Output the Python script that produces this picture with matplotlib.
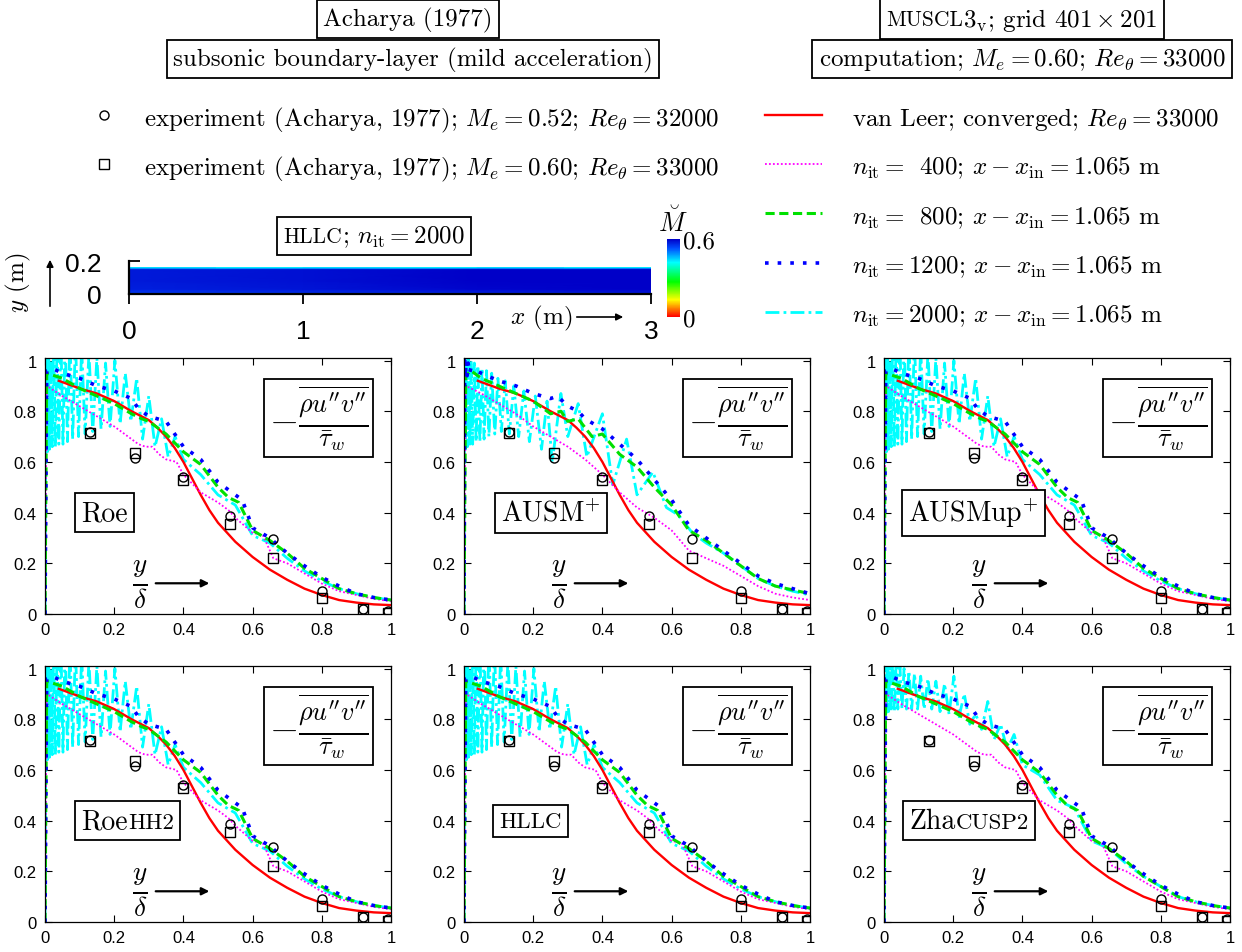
import numpy as np
import matplotlib
matplotlib.use("Agg")
import matplotlib.pyplot as plt
from matplotlib.lines import Line2D
from matplotlib.patches import FancyArrowPatch
from matplotlib.offsetbox import TextArea, HPacker, AnnotationBbox
from matplotlib.colors import LinearSegmentedColormap, Normalize
import matplotlib.cm as cm

plt.rcParams['mathtext.fontset'] = 'cm'
plt.rcParams['font.family'] = 'Liberation Sans'
SERIF = 'cmr10'

# experiment (Acharya 1977), y/delta and -rho u''v''/tau_w
Y_EXP = [0.13, 0.26, 0.40, 0.535, 0.66, 0.80, 0.92, 0.99]
EXP_052 = [0.72, 0.615, 0.54, 0.385, 0.295, 0.09, 0.02, 0.01]
EXP_060 = [0.715, 0.635, 0.53, 0.355, 0.22, 0.065, 0.02, 0.005]

# van Leer, converged
RED_X = [0.04, 0.10, 0.15, 0.20, 0.25, 0.30, 0.325, 0.35, 0.375, 0.40, 0.425,
         0.45, 0.475, 0.50, 0.55, 0.60, 0.65, 0.70, 0.75, 0.80, 0.85, 0.90,
         0.95, 1.00]
RED_Y = [0.92, 0.89, 0.87, 0.84, 0.80, 0.765, 0.735, 0.70, 0.655, 0.60, 0.535,
         0.47, 0.41, 0.36, 0.285, 0.225, 0.175, 0.135, 0.10, 0.075, 0.055, 0.045,
         0.038, 0.035]

# n_it = 400
MAG_X = [0.0, 0.005, 0.05, 0.10, 0.15, 0.20, 0.24, 0.27, 0.29, 0.31, 0.33, 0.35,
         0.38, 0.40, 0.45, 0.50, 0.53, 0.55, 0.60, 0.63, 0.66, 0.70, 0.75, 0.80,
         0.85, 0.90, 0.95, 1.00]
MAG_Y = [0.0, 0.90, 0.86, 0.82, 0.78, 0.74, 0.70, 0.67, 0.66, 0.66, 0.63, 0.61,
         0.60, 0.55, 0.48, 0.44, 0.41, 0.38, 0.32, 0.31, 0.22, 0.20, 0.16, 0.12,
         0.09, 0.075, 0.06, 0.05]
MAG_AUSM_X = [0.0, 0.005, 0.05, 0.10, 0.15, 0.20, 0.25, 0.30, 0.35, 0.40, 0.45,
              0.50, 0.55, 0.60, 0.65, 0.70, 0.75, 0.80, 0.85, 0.90, 0.95, 1.00]
MAG_AUSM_Y = [0.0, 0.90, 0.87, 0.83, 0.79, 0.74, 0.70, 0.66, 0.61, 0.55, 0.48,
              0.42, 0.38, 0.33, 0.25, 0.22, 0.19, 0.15, 0.11, 0.08, 0.065, 0.055]

# n_it = 800
GRN_X = [0.0, 0.005, 0.05, 0.10, 0.15, 0.20, 0.25, 0.28, 0.30, 0.35, 0.40, 0.45,
         0.50, 0.53, 0.56, 0.60, 0.65, 0.70, 0.75, 0.80, 0.85, 0.90, 0.95, 1.00]
GRN_Y = [0.0, 0.95, 0.93, 0.89, 0.86, 0.83, 0.79, 0.77, 0.76, 0.71, 0.64, 0.59,
         0.50, 0.46, 0.44, 0.33, 0.29, 0.24, 0.18, 0.14, 0.10, 0.08, 0.065, 0.055]
GRN_AUSM_X = [0.0, 0.005, 0.02, 0.05, 0.10, 0.15, 0.20, 0.25, 0.28, 0.30, 0.33,
              0.37, 0.40, 0.45, 0.50, 0.55, 0.60, 0.65, 0.70, 0.75, 0.80, 0.85,
              0.90, 0.95, 1.00]
GRN_AUSM_Y = [0.0, 0.94, 0.96, 0.93, 0.90, 0.87, 0.84, 0.79, 0.80, 0.76, 0.77,
              0.70, 0.71, 0.63, 0.58, 0.50, 0.43, 0.33, 0.29, 0.24, 0.19, 0.14,
              0.11, 0.095, 0.08]

# n_it = 1200
BLU_X = [0.0, 0.005, 0.02, 0.05, 0.10, 0.15, 0.20, 0.25, 0.27, 0.30, 0.35, 0.38,
         0.40, 0.45, 0.50, 0.55, 0.57, 0.60, 0.65, 0.70, 0.75, 0.80, 0.85, 0.90,
         0.95, 1.00]
BLU_Y = [0.0, 0.96, 0.97, 0.95, 0.93, 0.90, 0.88, 0.85, 0.81, 0.78, 0.76, 0.70,
         0.66, 0.61, 0.52, 0.47, 0.45, 0.34, 0.30, 0.24, 0.19, 0.145, 0.11, 0.08,
         0.065, 0.055]
BLU_AUSM_X = [0.0, 0.002, 0.004, 0.006, 0.009, 0.012, 0.016, 0.02, 0.05, 0.10,
              0.15, 0.20, 0.25, 0.27, 0.30, 0.33, 0.35, 0.40, 0.45, 0.50, 0.55,
              0.60, 0.65, 0.70, 0.75, 0.80, 0.85, 0.90, 0.95, 1.00]
BLU_AUSM_Y = [0.0, 1.0, 0.93, 1.0, 0.94, 0.99, 0.95, 0.97, 0.95, 0.92, 0.90,
              0.87, 0.85, 0.86, 0.82, 0.80, 0.77, 0.73, 0.67, 0.61, 0.53, 0.45,
              0.35, 0.30, 0.25, 0.20, 0.15, 0.12, 0.10, 0.08]

# n_it = 2000 (odd-even oscillation near the wall)
CYA_X = [0.0, 0.002, 0.004, 0.007, 0.010, 0.013, 0.017, 0.021, 0.025, 0.030,
         0.035, 0.040, 0.046, 0.052, 0.058, 0.065, 0.072, 0.080, 0.088, 0.097,
         0.106, 0.116, 0.127, 0.138, 0.150, 0.162, 0.175, 0.188, 0.202, 0.217,
         0.232, 0.248, 0.265, 0.282, 0.300, 0.318, 0.337, 0.356, 0.376, 0.40,
         0.45, 0.50, 0.55, 0.60, 0.65, 0.70, 0.75, 0.80, 0.85, 0.90, 0.95, 1.00]
CYA_Y = [0.0, 0.62, 1.10, 0.64, 1.10, 0.65, 1.10, 0.66, 1.10, 0.66,
         1.10, 0.67, 1.10, 0.67, 1.10, 0.68, 1.10, 0.69, 1.08, 0.70,
         1.05, 0.71, 1.03, 0.72, 1.01, 0.73, 0.99, 0.74, 1.00, 0.75,
         0.95, 0.76, 0.93, 0.69, 0.86, 0.66, 0.77, 0.62, 0.70, 0.61,
         0.55, 0.47, 0.43, 0.31, 0.28, 0.22, 0.17, 0.13, 0.10, 0.08, 0.065, 0.055]
CYA_ZHA_Y = [0.0, 0.80, 1.08, 0.82, 1.06, 0.83, 1.04, 0.83, 1.03, 0.83,
             1.02, 0.84, 1.01, 0.84, 1.00, 0.84, 0.99, 0.84, 0.98, 0.84,
             0.97, 0.84, 0.96, 0.84, 0.95, 0.83, 0.94, 0.82, 0.97, 0.81,
             0.90, 0.78, 0.82, 0.76, 0.87, 0.72, 0.78, 0.68, 0.74, 0.62,
             0.58, 0.48, 0.45, 0.32, 0.29, 0.23, 0.18, 0.14, 0.10, 0.08, 0.065, 0.055]
CYA_AUSM_X = [0.0, 0.002, 0.004, 0.007, 0.010, 0.013, 0.017, 0.021, 0.025, 0.030,
              0.035, 0.040, 0.046, 0.052, 0.058, 0.065, 0.072, 0.080, 0.089, 0.098,
              0.108, 0.119, 0.131, 0.144, 0.158, 0.173, 0.189, 0.206, 0.224, 0.240,
              0.255, 0.280, 0.300, 0.330, 0.355, 0.400, 0.430, 0.470, 0.500, 0.546,
              0.585, 0.620, 0.660, 0.700, 0.750, 0.800, 0.850, 0.900, 0.950, 1.000]
CYA_AUSM_Y = [0.0, 1.08, 0.65, 1.05, 0.66, 1.02, 0.67, 1.00, 0.67, 0.99,
              0.68, 0.98, 0.68, 0.97, 0.69, 0.96, 0.70, 0.95, 0.71, 0.93,
              0.72, 0.92, 0.71, 0.90, 0.70, 0.88, 0.68, 0.86, 0.65, 0.84,
              0.60, 0.87, 0.70, 0.83, 0.62, 0.79, 0.51, 0.69, 0.47, 0.56,
              0.42, 0.39, 0.32, 0.28, 0.24, 0.19, 0.14, 0.11, 0.09, 0.075]

# Mach number field, HLLC n_it = 2000
FIELD_X = [0.0, 1.0, 2.0, 3.0]
FIELD_Y = [0.0, 0.003, 0.010, 0.030, 0.080, 0.150, 0.156, 0.160]
FIELD_M = [[0.42, 0.42, 0.42, 0.42],
           [0.52, 0.52, 0.53, 0.53],
           [0.55, 0.56, 0.57, 0.58],
           [0.57, 0.58, 0.595, 0.60],
           [0.575, 0.585, 0.60, 0.60],
           [0.575, 0.585, 0.60, 0.60],
           [0.50, 0.50, 0.51, 0.52],
           [0.42, 0.42, 0.42, 0.42]]

STD = dict(mag=(MAG_X, MAG_Y), grn=(GRN_X, GRN_Y), blu=(BLU_X, BLU_Y), cya=(CYA_X, CYA_Y))
AUSM = dict(mag=(MAG_AUSM_X, MAG_AUSM_Y), grn=(GRN_AUSM_X, GRN_AUSM_Y),
            blu=(BLU_AUSM_X, BLU_AUSM_Y), cya=(CYA_AUSM_X, CYA_AUSM_Y))
ZHA = dict(STD, cya=(CYA_X, CYA_ZHA_Y))

BIG = 18
SC = 15.5   # small caps

PANELS = [
    ([('Roe', 20)], 0.105, STD),
    ([(r'$\mathrm{AUSM}^{+}$', 20)], 0.107, AUSM),
    ([(r'$\mathrm{AUSMup}^{+}$', 20)], 0.070, STD),
    ([('Roe', 20), ('HH2', 16.5)], 0.105, STD),
    ([('HLLC', 16.5)], 0.102, STD),
    ([('Zha', 20), ('CUSP2', 16.5)], 0.073, ZHA),
]

W, H = 1242, 953
fig = plt.figure(figsize=(W / 100, H / 100), dpi=100)


def fx(px):
    return px / W


def fy(py):
    return 1 - py / H


def boxed(parent, parts, xy, coords, align=(0.5, 0.5), pad=0.45):
    kids = [TextArea(s, textprops=dict(family=SERIF, size=sz)) for s, sz in parts]
    pack = HPacker(children=kids, align='baseline', pad=0, sep=0)
    ab = AnnotationBbox(pack, xy, xycoords=coords, box_alignment=align,
                        frameon=True, pad=pad,
                        bboxprops=dict(lw=1.3, ec='black', fc='white'))
    ab.set_zorder(6)
    parent.add_artist(ab)


# headers
boxed(fig, [('Acharya (1977)', BIG)], (fx(408), fy(20)), 'figure fraction')
boxed(fig, [('subsonic boundary-layer (mild acceleration)', BIG)],
      (fx(413), fy(60)), 'figure fraction')
boxed(fig, [('MUSCL', SC), (r'$3_{\mathrm{v}}$; grid $401\times201$', BIG)],
      (fx(1022), fy(20)), 'figure fraction')
boxed(fig, [(r'computation; $M_e = 0.60$; $Re_\theta = 33000$', BIG)],
      (fx(1022), fy(60)), 'figure fraction')

# legend, experiments
for yy, mk, txt in [(116, 'o', r'experiment (Acharya, 1977); $M_e = 0.52$; $Re_\theta = 32000$'),
                    (165, 's', r'experiment (Acharya, 1977); $M_e = 0.60$; $Re_\theta = 33000$')]:
    fig.add_artist(Line2D([fx(104)], [fy(yy)], transform=fig.transFigure, ls='none',
                          marker=mk, ms=6.5, mfc='none', mec='k', mew=1))
    fig.text(fx(144), fy(yy), txt, family=SERIF, size=BIG, va='center_baseline')

STYLES = {
    'red': dict(color='#ff0000', ls='-', lw=1.7),
    'mag': dict(color='#ff00ff', ls=(0, (1, 1.2)), lw=1.3),
    'grn': dict(color='#00e000', ls=(0, (3, 1.5)), lw=2.2),
    'blu': dict(color='#0000ff', ls=(0, (1, 2.5)), lw=2.6),
    'cya': dict(color='#00ffff', ls=(0, (5, 1.5, 1, 1.5)), lw=2.0),
}
LEG = [('red', r'van Leer; converged; $Re_\theta = 33000$'),
       ('mag', r'$n_{\mathrm{it}}{=}\ \,400$; $x - x_{\mathrm{in}} = 1.065$ m'),
       ('grn', r'$n_{\mathrm{it}}{=}\ \,800$; $x - x_{\mathrm{in}} = 1.065$ m'),
       ('blu', r'$n_{\mathrm{it}}{=}1200$; $x - x_{\mathrm{in}} = 1.065$ m'),
       ('cya', r'$n_{\mathrm{it}}{=}2000$; $x - x_{\mathrm{in}} = 1.065$ m')]
for i, (key, txt) in enumerate(LEG):
    yy = 116 + 49.2 * i
    fig.add_artist(Line2D([fx(765), fx(822)], [fy(yy), fy(yy)],
                          transform=fig.transFigure, **STYLES[key]))
    fig.text(fx(852), fy(yy), txt, family=SERIF, size=BIG, va='center_baseline')

# flow field inset
cmap = LinearSegmentedColormap.from_list(
    'mach', [(0.0, '#ff0000'), (0.22, '#ffff00'), (0.45, '#00ff00'),
             (0.70, '#00ffff'), (0.88, '#0050ff'), (1.0, '#0000c8')])
ins = fig.add_axes([fx(129), fy(295), fx(651) - fx(129), fy(262) - fy(295)])
ins.pcolormesh(FIELD_X, FIELD_Y, FIELD_M, shading='gouraud', cmap=cmap, vmin=0, vmax=0.6)
ins.set_xlim(0, 3)
ins.set_ylim(0, 0.2)
ins.spines['top'].set_visible(False)
ins.spines['right'].set_visible(False)
for s in ('left', 'bottom'):
    ins.spines[s].set_linewidth(1.6)
ins.set_xticks([0, 1, 2, 3], ['0', '1', '2', '3'], fontsize=19)
ins.set_yticks([0, 0.2], ['0', '0.2'], fontsize=19)
ins.tick_params(axis='x', direction='out', length=7, width=1.3, pad=11)
ins.tick_params(axis='y', direction='in', length=8, width=1.3, pad=20)
ins.set_zorder(3)

boxed(fig, [('HLLC', SC), (r'; $n_{\mathrm{it}} = 2000$', BIG)],
      (fx(374), fy(237)), 'figure fraction')
fig.text(fx(18), fy(283), r'$y$ (m)', family=SERIF, size=BIG, rotation=90,
         ha='center', va='center')
fig.add_artist(FancyArrowPatch((fx(50), fy(310)), (fx(50), fy(258)), transform=fig.transFigure,
                               arrowstyle='-|>', mutation_scale=10, lw=1.2, color='k'))
fig.text(fx(541), fy(318), r'$x$ (m)', family=SERIF, size=BIG, ha='center', va='center')
fig.add_artist(FancyArrowPatch((fx(574), fy(318)), (fx(626), fy(318)), transform=fig.transFigure,
                               arrowstyle='-|>', mutation_scale=10, lw=1.2, color='k'))

cax = fig.add_axes([fx(667), fy(318), fx(680) - fx(667), fy(240) - fy(318)])
cb = fig.colorbar(cm.ScalarMappable(norm=Normalize(0, 0.6), cmap=cmap), cax=cax)
cb.outline.set_visible(False)
cax.set_yticks([0, 0.6], ['0', '0.6'], family=SERIF, fontsize=BIG)
cax.tick_params(length=0, pad=2)
fig.text(fx(673), fy(222), r'$\breve{M}$', size=BIG + 1, ha='center', va='center')

# profiles
COLS = [45, 464, 884]
ROWS = [359, 667]
TICKS = [0, 0.2, 0.4, 0.6, 0.8, 1]
TLAB = ['0', '0.2', '0.4', '0.6', '0.8', '1']
FRAC = r'$-\frac{\overline{\rho u^{\prime\prime} v^{\prime\prime}}}{\bar{\tau}_w}$'
for k, (label, lx, data) in enumerate(PANELS):
    left, top = COLS[k % 3], ROWS[k // 3]
    ax = fig.add_axes([fx(left), fy(top + 256), 346 / W, 256 / H])
    for key in ('cya', 'mag', 'grn', 'blu'):
        xs, ys = data[key]
        if key == 'mag':
            ax.plot(RED_X, RED_Y, **STYLES['red'])
        ax.plot(xs, ys, **STYLES[key])
    ax.plot(Y_EXP, EXP_052, ls='none', marker='o', ms=6.5, mfc='none', mec='k', mew=1, zorder=4)
    ax.plot(Y_EXP, EXP_060, ls='none', marker='s', ms=6.5, mfc='none', mec='k', mew=1, zorder=4)
    ax.set_xlim(0, 1)
    ax.set_ylim(0, 1.01)
    ax.set_xticks(TICKS, TLAB, fontsize=12)
    ax.set_yticks(TICKS, TLAB, fontsize=12)
    ax.tick_params(direction='in', top=True, right=True, length=5, width=0.8, pad=6)
    for s in ax.spines.values():
        s.set_linewidth(0.9)
    boxed(ax, [(FRAC, 27)], (0.79, 0.766), 'axes fraction', pad=0.35)
    boxed(ax, label, (lx, 0.395), 'axes fraction', align=(0, 0.5))
    ax.text(0.275, 0.12, r'$\frac{y}{\delta}$', size=28, ha='center', va='center',
            transform=ax.transAxes)
    ax.annotate('', xy=(0.475, 0.12), xytext=(0.32, 0.12), xycoords='axes fraction',
                arrowprops=dict(arrowstyle='-|>', color='k', lw=1.6, mutation_scale=11,
                                shrinkA=0, shrinkB=0))

fig.savefig('out.png', dpi=100)
